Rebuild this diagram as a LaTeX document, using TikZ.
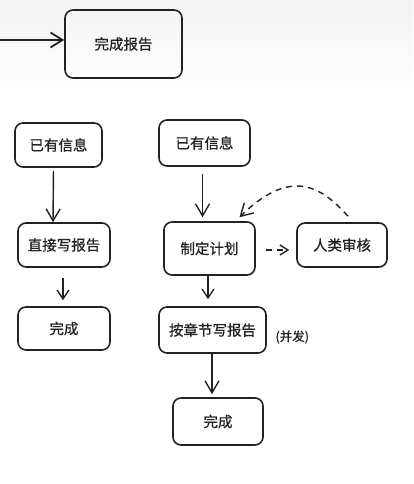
\documentclass[tikz,border=0pt]{standalone}
\usepackage{fontspec}
\newfontfamily\cjk[FakeBold=0.8]{Noto Sans CJK SC}
\usetikzlibrary{arrows.meta}
\definecolor{ink}{HTML}{222222}
\tikzset{
  box/.style={draw=ink, line width=1.6pt, rounded corners=8pt, align=center,
    inner sep=0pt, font=\cjk\fontsize{14.5}{16}\selectfont, text=ink},
  arr/.style={draw=ink, line width=1.4pt, -{Straight Barb[length=12pt,width=14pt,line width=1.4pt]}},
  darr/.style={arr, dash pattern=on 6pt off 5pt},
  lbl/.style={font=\cjk\fontsize{12.5}{14}\selectfont, text=ink}
}
\begin{document}
\begin{tikzpicture}[x=1pt,y=-1pt]
\useasboundingbox (0,0) rectangle (413,484);
\shade[top color=black!5, bottom color=white] (0,0) rectangle (413,90);
% top
\node[box, minimum width=117pt, minimum height=68pt] (report) at (123.5,44) {完成报告};
\coordinate (in) at (0,40);
\draw[arr, line width=1.8pt, -{Straight Barb[length=12pt,width=15pt,line width=1.8pt]}] (in) -- (report.west |- in);
% left column
\node[box, minimum width=87pt, minimum height=44pt] (L1) at (58.5,145) {已有信息};
\node[box, minimum width=92pt, minimum height=44pt] (L2) at (64,245) {直接写报告};
\node[box, minimum width=92pt, minimum height=43pt] (L3) at (64,328.5) {完成};
\draw[arr, shorten <=3pt] ([xshift=-5pt]L1.south) -- ([xshift=-11pt]L2.north);
\draw[arr, shorten <=10pt, shorten >=6pt, -{Straight Barb[length=9pt,width=12pt,line width=1.4pt]}] ([xshift=-1pt]L2.south) -- ([xshift=-1pt]L3.north);
% right column
\node[box, minimum width=91pt, minimum height=46pt] (R1) at (204.5,143) {已有信息};
\node[box, minimum width=91pt, minimum height=53pt] (R2) at (209.5,248.5) {制定计划};
\node[box, minimum width=90pt, minimum height=44pt] (H) at (342,245) {人类审核};
\node[box, minimum width=107pt, minimum height=46pt] (R3) at (212.5,330) {按章节写报告};
\node[box, minimum width=90pt, minimum height=47pt] (R4) at (218,421.5) {完成};
\node[lbl, anchor=west] (par) at (272,337) {(并发)};
\draw[arr, shorten <=7pt, shorten >=4pt] ([xshift=-2pt]R1.south) -- ([xshift=-7pt]R2.north);
\draw[arr, shorten >=7pt, -{Straight Barb[length=9pt,width=12pt,line width=1.4pt]}] ([xshift=-1.5pt]R2.south) -- ([xshift=-4.5pt]R3.north);
\draw[arr, shorten >=3pt] ([xshift=-0.5pt]R3.south) -- ([xshift=-6pt]R4.north);
\draw[darr, shorten <=10pt, shorten >=7pt, -{Straight Barb[length=8pt,width=10pt,line width=1.4pt]}] (R2.east |- 0,250) -- (H.west |- 0,250);
\coordinate (hs) at ([xshift=6pt,yshift=6pt]H.north);
\coordinate (re) at ([xshift=30pt,yshift=4pt]R2.north);
\draw[darr] (hs) .. controls (320,185) and (290,168) .. (re);
\end{tikzpicture}
\end{document}
